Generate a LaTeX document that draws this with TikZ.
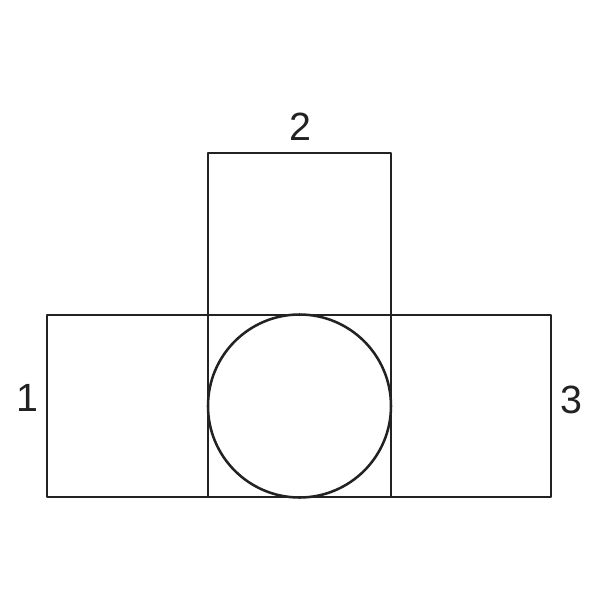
\documentclass[tikz,border=0pt]{standalone}
\usepackage{fontspec}
\setmainfont{Liberation Sans}
\usepackage{tikz}
\usetikzlibrary{calc}
\definecolor{ink}{HTML}{222222}
\tikzset{
  base/.style={draw=ink, line width=1.8pt, line cap=round, line join=round},
  lab/.style={text=ink, font=\fontsize{28}{32}\selectfont, inner sep=0pt},
}
\begin{document}
\begin{tikzpicture}[x=0.025cm, y=-0.025cm]
  \useasboundingbox (0,0) rectangle (600,600);
  \coordinate (A) at (47,315);
  \coordinate (B) at (551,497);
  \coordinate (T) at (208,153);
  \coordinate (U) at (391,497);
  \coordinate (O) at (299.5,406);
  \draw[base] (A) rectangle (B);
  \draw[base] (T) rectangle (U);
  \draw[base] (O) circle (91.5);
  \node[lab] (n1) at (27,398) {1};
  \node[lab] (n2) at (300,127) {2};
  \node[lab] (n3) at (571,400) {3};
\end{tikzpicture}
\end{document}
